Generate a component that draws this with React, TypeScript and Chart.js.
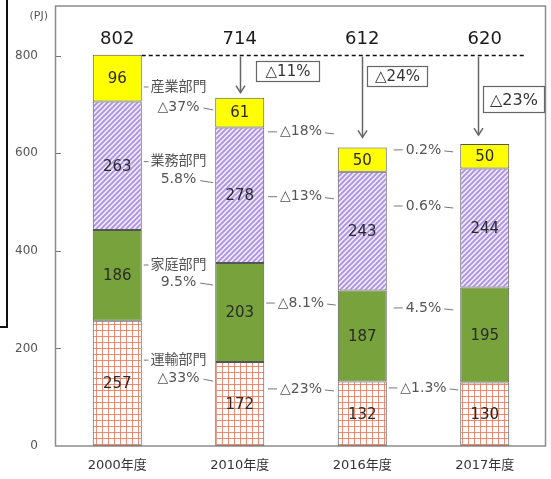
import React, { useEffect, useRef } from "react";
import { Chart, registerables } from "chart.js";

Chart.register(...registerables);

const categories = ["2000年度", "2010年度", "2016年度", "2017年度"];
const transport = [257, 172, 132, 130];
const household = [186, 203, 187, 195];
const commercial = [263, 278, 243, 244];
const industrial = [96, 61, 50, 50];
const totals = [802, 714, 612, 620];
const yTicks = [0, 200, 400, 600, 800];
const totalChanges = ["△11%", "△24%", "△23%"];
const sectorNames = ["産業部門", "業務部門", "家庭部門", "運輸部門"];
const changes2010 = ["△37%", "5.8%", "9.5%", "△33%"];
const changes2016 = ["△18%", "△13%", "△8.1%", "△23%"];
const changes2017 = ["0.2%", "0.6%", "4.5%", "△1.3%"];
const unitLabel = "(PJ)";

const FONT = '"DejaVu Sans", "Noto Sans CJK JP", sans-serif';

function makePattern(size: number, draw: (c: CanvasRenderingContext2D, s: number) => void) {
  const cv = document.createElement("canvas");
  cv.width = size;
  cv.height = size;
  const c = cv.getContext("2d")!;
  draw(c, size);
  return c.createPattern(cv, "repeat")!;
}

export default function App() {
  const ref = useRef<HTMLCanvasElement>(null);

  useEffect(() => {
    const canvas = ref.current!;
    const gridPattern = makePattern(6, (c, s) => {
      c.fillStyle = "#ffffff";
      c.fillRect(0, 0, s, s);
      c.strokeStyle = "rgba(236,120,92,0.85)";
      c.lineWidth = 1;
      c.beginPath();
      c.moveTo(0.5, 0);
      c.lineTo(0.5, s);
      c.moveTo(0, 0.5);
      c.lineTo(s, 0.5);
      c.stroke();
    });
    const hatchPattern = makePattern(5, (c, s) => {
      c.fillStyle = "#f1ebfb";
      c.fillRect(0, 0, s, s);
      c.strokeStyle = "#ad92e4";
      c.lineWidth = 1.9;
      c.beginPath();
      c.moveTo(-1, 1);
      c.lineTo(1, -1);
      c.moveTo(0, s);
      c.lineTo(s, 0);
      c.moveTo(s - 1, s + 1);
      c.lineTo(s + 1, s - 1);
      c.stroke();
    });

    // annotation layout (value-space heights of the text rows)
    const nameRowY = [736, 583, 371, 176];
    const pctRowY = [695, 546, 336, 139];
    const midRowY = [644, 511, 293, 117];
    const rightRowY = [607, 492, 283, 119];

    const overlay = {
      id: "overlay",
      afterDraw(chart: any) {
        const { ctx, chartArea: ca, scales } = chart;
        const x = scales.x;
        const y = scales.y;
        const el = (d: number, i: number) => chart.getDatasetMeta(d).data[i] as any;
        const line = (x1: number, y1: number, x2: number, y2: number) => {
          ctx.beginPath();
          ctx.moveTo(x1, y1);
          ctx.lineTo(x2, y2);
          ctx.stroke();
        };
        const text = (t: string, px: number, py: number, size: number, color: string, align: CanvasTextAlign = "center") => {
          ctx.font = `${size}px ${FONT}`;
          ctx.fillStyle = color;
          ctx.textAlign = align;
          ctx.textBaseline = "middle";
          ctx.fillText(t, px, py);
        };
        ctx.save();

        // frame
        ctx.strokeStyle = "#8c8c8c";
        ctx.lineWidth = 1.5;
        ctx.strokeRect(ca.left - 0.5, ca.top, ca.right - ca.left, ca.bottom - ca.top);
        // inward y ticks
        ctx.lineWidth = 1;
        ctx.strokeStyle = "#777";
        yTicks.forEach((v) => {
          if (v === 0) return;
          const py = Math.round(y.getPixelForValue(v)) + 0.5;
          line(ca.left, py, ca.left + 5, py);
        });
        text(unitLabel, ca.left - 8, ca.top + 10, 11, "#555", "right");

        // segment values
        const series = [transport, household, commercial, industrial];
        series.forEach((arr, d) =>
          arr.forEach((v, i) => {
            const e = el(d, i);
            text(String(v), e.x, (e.y + e.base) / 2 + 1, 15, "#2a2a2a");
          })
        );
        // totals row
        const totalRowY = y.getPixelForValue(800) - 16;
        totals.forEach((t, i) => text(String(t), x.getPixelForValue(i), totalRowY, 18, "#1a1a1a"));

        // dashed reference line
        const e0 = el(3, 0);
        const yDash = Math.round(y.getPixelForValue(totals[0])) + 0.5;
        ctx.strokeStyle = "#111";
        ctx.lineWidth = 1.5;
        ctx.setLineDash([4, 3]);
        line(e0.x + e0.width / 2, yDash, x.getPixelForValue(3) + 41, yDash);
        ctx.setLineDash([]);

        // arrows + boxes
        const arrowOffset = [0, 0, -7];
        const arrowGap = [5, 10, 9];
        const boxDx = [16, 5, 5];
        const boxDy = [6, 11, 31];
        const boxW = [63, 60, 61];
        const boxH = [20, 20, 26];
        const boxFont = [15, 15, 16];
        ctx.strokeStyle = "#666";
        for (let k = 0; k < 3; k++) {
          const e = el(3, k + 1);
          const ax = Math.round(e.x + arrowOffset[k]) + 0.5;
          const tip = e.y - arrowGap[k];
          ctx.lineWidth = 1.5;
          line(ax, yDash + 1, ax, tip);
          ctx.beginPath();
          ctx.moveTo(ax - 4.5, tip - 7);
          ctx.lineTo(ax, tip);
          ctx.lineTo(ax + 4.5, tip - 7);
          ctx.stroke();
          const bx = ax + boxDx[k];
          const by = yDash + boxDy[k];
          ctx.fillStyle = "#fff";
          ctx.fillRect(bx, by, boxW[k], boxH[k]);
          ctx.lineWidth = 1.2;
          ctx.strokeRect(bx, by, boxW[k], boxH[k]);
          text(totalChanges[k], bx + boxW[k] / 2, by + boxH[k] / 2 + 1, boxFont[k], "#333");
        }

        // sector annotations
        const annColor = "#555";
        const annSize = 14;
        const w = (t: string) => {
          ctx.font = `${annSize}px ${FONT}`;
          return ctx.measureText(t).width;
        };
        ctx.strokeStyle = "#777";
        ctx.lineWidth = 1;
        const gaps = [0, 1, 2].map((i) => {
          const a = el(3, i);
          const b = el(3, i + 1);
          return { l: a.x + a.width / 2, r: b.x - b.width / 2 };
        });
        // 2000 -> 2010
        {
          const g = gaps[0];
          const cx = (g.l + g.r) / 2;
          sectorNames.forEach((n, i) => {
            const py = y.getPixelForValue(nameRowY[i]);
            text(n, cx, py, annSize, annColor);
            const tl = cx - w(n) / 2;
            if (tl - 2 > g.l + 2) line(g.l + 2, py, tl - 2, py);
            const qy = y.getPixelForValue(pctRowY[i]);
            const p = changes2010[i];
            text(p, cx, qy, annSize, annColor);
            const tr = cx + w(p) / 2;
            line(tr + 4, qy + 1, g.r - 2, qy + 3);
          });
        }
        const drawSection = (g: { l: number; r: number }, labels: string[], rows: number[]) => {
          const cx = (g.l + g.r) / 2;
          labels.forEach((t, i) => {
            const py = y.getPixelForValue(rows[i]);
            text(t, cx, py, annSize, annColor);
            const half = w(t) / 2;
            const ll = Math.max(g.l + 2, cx - half - 12);
            line(ll, py, cx - half - 3, py);
            const rr = Math.min(g.r - 2, cx + half + 12);
            line(cx + half + 3, py + 1, rr, py + 2);
          });
        };
        drawSection(gaps[1], changes2016, midRowY);
        drawSection(gaps[2], changes2017, rightRowY);

        ctx.restore();
      },
    };

    const barBase = { borderColor: "#555", borderWidth: 1, borderSkipped: false as const, stack: "s" };
    const chart = new Chart(canvas, {
      type: "bar",
      data: {
        labels: categories,
        datasets: [
          { label: "運輸部門", data: transport, backgroundColor: gridPattern, ...barBase },
          { label: "家庭部門", data: household, backgroundColor: "#78a23c", ...barBase },
          { label: "業務部門", data: commercial, backgroundColor: hatchPattern, ...barBase },
          { label: "産業部門", data: industrial, backgroundColor: "#ffff00", ...barBase },
        ],
      },
      options: {
        responsive: false,
        animation: false,
        layout: { padding: { top: 6, right: 5, left: 0, bottom: 0 } },
        plugins: { legend: { display: false }, tooltip: { enabled: false } },
        datasets: { bar: { barPercentage: 0.4, categoryPercentage: 1 } },
        scales: {
          x: {
            stacked: true,
            grid: { display: false, drawTicks: false },
            border: { display: false },
            ticks: { padding: 12, color: "#333", font: { family: FONT, size: 13 } },
            afterFit: (s: any) => {
              s.height = 33;
              s.paddingLeft = 0;
              s.paddingRight = 0;
            },
          },
          y: {
            stacked: true,
            min: 0,
            max: 902,
            grid: { display: false, drawTicks: false },
            border: { display: false },
            afterBuildTicks: (s: any) => {
              s.ticks = yTicks.map((v) => ({ value: v }));
            },
            ticks: { padding: 18, color: "#555", font: { family: FONT, size: 12 } },
            afterFit: (s: any) => {
              s.width = 56;
              s.paddingTop = 0;
              s.paddingBottom = 0;
            },
          },
        },
      } as any,
      plugins: [overlay],
    });
    return () => chart.destroy();
  }, []);

  return (
    <div style={{ position: "fixed", left: 0, top: 0, width: 551, height: 479, background: "#fff" }}>
      <canvas ref={ref} width={551} height={479} style={{ display: "block" }} />
      <div
        style={{
          position: "absolute",
          left: 0,
          top: 0,
          width: 6,
          height: 326,
          borderRight: "2px solid #111",
          borderBottom: "2px solid #111",
        }}
      />
    </div>
  );
}
